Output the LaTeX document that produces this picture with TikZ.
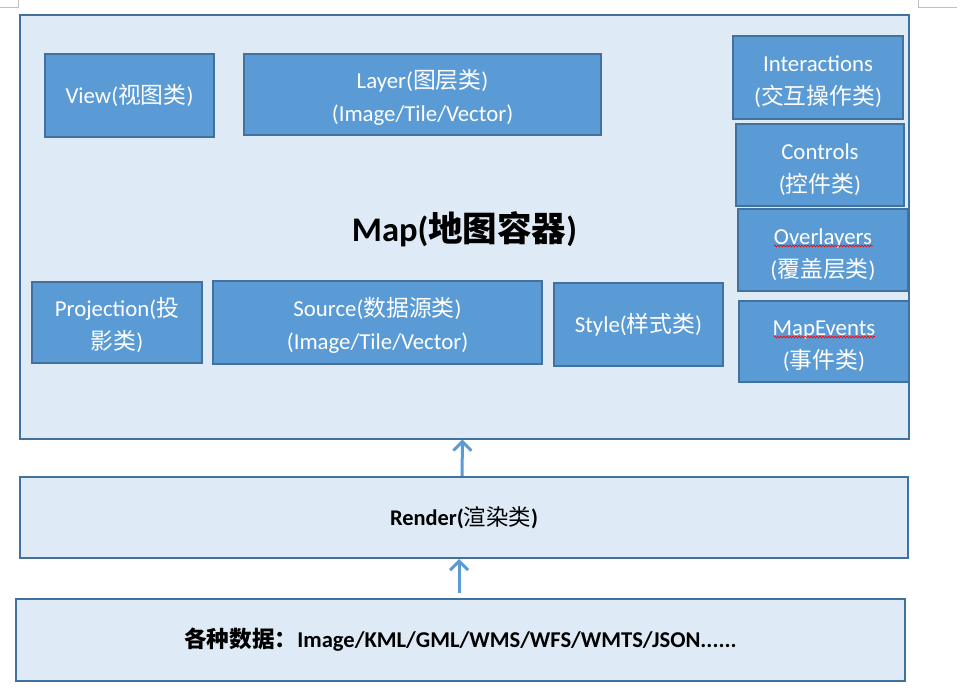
\documentclass[tikz,border=0pt]{standalone}
\usepackage{fontspec}
\setmainfont{Carlito}
\newfontfamily\cjk{Noto Sans CJK SC}
\usetikzlibrary{arrows.meta,decorations.pathmorphing}
\definecolor{mapfill}{HTML}{DEEBF7}
\definecolor{edgeblue}{HTML}{41719C}
\definecolor{boxfill}{HTML}{5B9BD5}
\newcommand\twolines[2]{\raisebox{-4pt}[\height][\depth]{\begin{tabular}{@{}c@{}}#1\\#2\end{tabular}}}
\newcommand\lowered[2]{\raisebox{-#1}[\height][\depth]{#2}}
\tikzset{
  mapbox/.style={draw=edgeblue, fill=mapfill, line width=2pt, rectangle, inner sep=0pt, align=center},
  classbox/.style={draw=edgeblue, fill=boxfill, line width=2.5pt, rectangle, text=white, align=center, inner sep=0pt, font=\fontsize{22.8}{33}\selectfont},
  flow/.style={-{Straight Barb[length=9pt,width=18pt]}, draw=boxfill, line width=3pt},
  squiggle/.style={draw=red, line width=0.6pt, decorate, decoration={snake, amplitude=1pt, segment length=3pt}},
  cornermark/.style={draw=black!25, line width=1pt}
}
\begin{document}
\begin{tikzpicture}[x=1pt,y=-1pt]
\useasboundingbox (0,0) rectangle (963,698);
% page corner marks
\draw[cornermark] (18,0) -- (18,8) -- (0,8);
\draw[cornermark] (918,0) -- (918,8) -- (957,8);

% Map container
\node[mapbox, minimum width=889pt, minimum height=423pt, font=\fontsize{34.5}{40}\selectfont\bfseries] (map) at (464.5,227) {\lowered{2pt}{Map({\cjk 地图容器})}};

% inner class boxes
\node[classbox, minimum width=169pt, minimum height=83pt] (view) at (129.5,95.5) {View({\cjk 视图类})};
\node[classbox, minimum width=357pt, minimum height=81pt] (layer) at (422.5,94.5) {\twolines{Layer({\cjk 图层类})}{(Image/Tile/Vector)}};
\node[classbox, minimum width=170pt, minimum height=83pt] (interactions) at (818,77.5) {\twolines{Interactions}{({\cjk 交互操作类})}};
\node[classbox, minimum width=168pt, minimum height=82pt] (controls) at (820,165) {\twolines{Controls}{({\cjk 控件类})}};
\node[classbox, minimum width=170pt, minimum height=82pt] (overlayers) at (823,250) {\twolines{Overlayers}{({\cjk 覆盖层类})}};
\node[classbox, minimum width=170pt, minimum height=81pt] (mapevents) at (824,341.5) {\twolines{MapEvents}{({\cjk 事件类})}};
\node[classbox, minimum width=170pt, minimum height=81pt] (projection) at (117,322.5) {\twolines{Projection({\cjk 投}}{{\cjk 影类})}};
\node[classbox, minimum width=329pt, minimum height=83pt] (source) at (377.5,322.5) {\twolines{Source({\cjk 数据源类})}{(Image/Tile/Vector)}};
\node[classbox, minimum width=169pt, minimum height=83pt] (style) at (638.5,324.5) {Style({\cjk 样式类})};

% spell-check squiggles
\draw[squiggle] (774,246) -- (873,246);
\draw[squiggle] (774,337) -- (875,337);

% Render and data layers
\node[mapbox, minimum width=888pt, minimum height=81pt, font=\fontsize{22.4}{26}\selectfont] (render) at (464,517.5) {\textbf{Render(}{\cjk 渲染类}\textbf{)}};
\node[mapbox, minimum width=889pt, minimum height=82pt, font=\fontsize{22.6}{26}\selectfont\bfseries] (data) at (460.5,640) {{\cjk 各种数据：}Image/KML/GML/WMS/WFS/WMTS/JSON......};

% arrows
\draw[flow] ([xshift=-2pt]render.north) -- ([xshift=-2pt]map.south);
\draw[flow] ([xshift=-1.5pt,yshift=5pt]data.north) -- ([xshift=-5pt]render.south);
\end{tikzpicture}
\end{document}
